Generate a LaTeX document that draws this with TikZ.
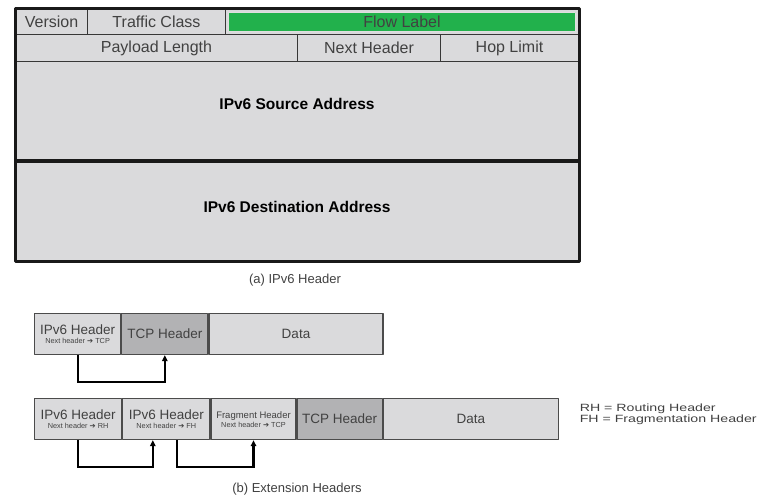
\documentclass[tikz,border=0pt]{standalone}
\usepackage{fontspec}
\setmainfont{Liberation Sans}
\newfontfamily\arrowfont{DejaVu Sans}
\usetikzlibrary{arrows.meta,positioning}
\definecolor{cellgray}{RGB}{218,218,220}
\definecolor{tcpgray}{RGB}{178,178,180}
\definecolor{flowgreen}{RGB}{34,177,76}
\definecolor{linegray}{RGB}{55,55,55}
\definecolor{textgray}{RGB}{65,65,65}
\newcommand{\exthd}[2]{#1\\[-4pt]{\fontsize{7.3}{8}\selectfont Next header {\arrowfont ➔} #2}}
\newcommand{\liftup}[2]{\raisebox{#1}[0pt][0pt]{#2}}

\begin{document}
\begin{tikzpicture}[x=1pt,y=-1pt,line join=round,
  cell/.style={draw=linegray,line width=1pt,fill=cellgray,text=textgray,anchor=north west,
    inner sep=0pt,font=\fontsize{16}{18}\selectfont},
  bigcell/.style={cell,text=black,minimum width=563pt,font=\bfseries\fontsize{15.5}{18}\selectfont},
  xcell/.style={cell,draw=linegray!90,line width=1.2pt,minimum height=41pt,align=center,
    font=\fontsize{13.5}{13}\selectfont},
  tcp/.style={fill=tcpgray},
  flow/.style={line width=2.2pt,line join=miter,-{Triangle[length=6pt,width=5.5pt]}},
  caption/.style={text=textgray,font=\fontsize{13}{15}\selectfont}]
\fill[white] (0,0) rectangle (759,497);
\useasboundingbox (0,0) rectangle (759,497);
% (a) IPv6 header
\foreach \n/\x/\y/\w/\h/\t in {ver/15/9/72/25/Version, tc/87/9/138/25/Traffic Class,
  fl/225/9/353/25/{}, pl/15/34/282/27/Payload Length, nx/297/34/143/27/Next Header,
  hop/440/34/138/27/Hop Limit}
  \node[cell,minimum width=\w pt,minimum height=\h pt] (\n) at (\x,\y) {\t};
\node[fill=flowgreen,draw=white!75!gray,line width=0.8pt,minimum width=347pt,minimum height=19pt,
  inner sep=0pt,text=textgray,font=\fontsize{16}{18}\selectfont] (flg) at (fl.center) {Flow Label};
\node[bigcell,minimum height=99pt] (src) at (15,61) {\liftup{1.5pt}{IPv6 Source Address}};
\node[bigcell,minimum height=100pt] (dst) at (15,160) {\liftup{-2pt}{IPv6 Destination Address}};
\draw[line width=3pt,black!90] (src.south west) -- (src.south east);
\draw[line width=3pt,black!90] (ver.north west) rectangle (dst.south east);
\node[caption] (capa) at (295,280) {(a) IPv6 Header};
% (b) extension headers
\node[xcell,minimum width=86pt] (ipa) at (34,313) {\exthd{IPv6 Header}{TCP}};
\node[xcell,tcp,minimum width=86pt,right=0pt of ipa] (tcpa) {TCP Header};
\node[xcell,minimum width=174pt,right=0pt of tcpa] (dataa) {Data};
\node[xcell,minimum width=87pt] (ipb) at (34,398) {\exthd{IPv6 Header}{RH}};
\node[xcell,minimum width=87pt,right=0pt of ipb] (rtb) {\exthd{IPv6 Header}{FH}};
\node[xcell,minimum width=85pt,right=0pt of rtb] (frb) {\exthd{{\fontsize{9.5}{9}\selectfont Fragment Header}}{TCP}};
\node[xcell,tcp,minimum width=85pt,right=0pt of frb] (tcpb) {TCP Header};
\node[xcell,minimum width=175pt,right=0pt of tcpb] (datab) {Data};
\draw[flow] (ipa.south) -- ++(0,27) -| (tcpa.south);
\draw[flow] (ipb.south) -- ++(0,27) -| ([xshift=-13.5pt]rtb.south);
\draw[flow] ([xshift=10.5pt]rtb.south) -- ++(0,27) -| (frb.south);
\node[text=textgray,align=left,anchor=west,xscale=1.35,font=\fontsize{10.5}{11}\selectfont]
  (leg) at (575,414) {RH = Routing Header\\FH = Fragmentation Header};
\node[caption] (capb) at (297,489) {(b) Extension Headers};
\end{tikzpicture}
\end{document}
